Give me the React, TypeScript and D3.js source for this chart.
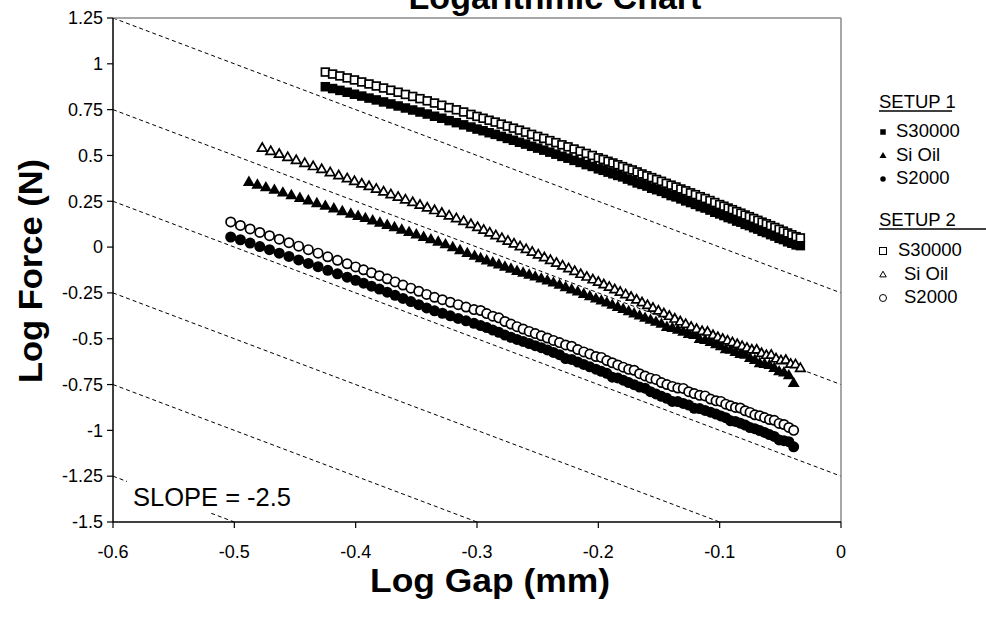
import React from "react";
import * as d3 from "d3";

// Log-log force vs. gap measurements for two test setups.

const xTicks = [-0.6, -0.5, -0.4, -0.3, -0.2, -0.1, 0];
const yTicks = [1.25, 1, 0.75, 0.5, 0.25, 0, -0.25, -0.5, -0.75, -1, -1.25, -1.5];

// Reference lines of slope -2.5, given by their value at log gap = -0.6
const refSlope = -2.5;
const refIntercepts = [1.25, 0.75, 0.25, -0.25, -0.75, -1.25];

// S30000 (both setups share the gap readings)
const s30000Gap = [
  -0.425, -0.419, -0.413, -0.407, -0.401, -0.395, -0.389, -0.383, -0.377, -0.371, -0.365, -0.359, -0.353, -0.347,
  -0.341, -0.335, -0.329, -0.323, -0.317, -0.311, -0.305,
  -0.3, -0.295, -0.29, -0.285, -0.28, -0.275, -0.27, -0.265, -0.26, -0.255, -0.25, -0.245, -0.24, -0.235, -0.23,
  -0.225, -0.22, -0.215, -0.21, -0.205, -0.2,
  -0.196, -0.192, -0.188, -0.184, -0.18, -0.176, -0.172, -0.168, -0.164, -0.16, -0.156, -0.152, -0.148, -0.144,
  -0.14, -0.136, -0.132, -0.128, -0.124, -0.12, -0.116, -0.112, -0.108, -0.104, -0.1,
  -0.0965, -0.093, -0.0895, -0.086, -0.0825, -0.079, -0.0755, -0.072, -0.0685, -0.065, -0.0615, -0.058, -0.0545,
  -0.051, -0.0475, -0.044, -0.0405, -0.037, -0.0335,
];
const setup1S30000 = [
  0.875, 0.865, 0.855, 0.845, 0.834, 0.824, 0.813, 0.803, 0.792, 0.781, 0.77, 0.759, 0.748, 0.737, 0.726, 0.714,
  0.703, 0.69, 0.679, 0.667, 0.655,
  0.644, 0.635, 0.624, 0.615, 0.604, 0.593, 0.583, 0.572, 0.562, 0.55, 0.54, 0.529, 0.518, 0.507, 0.495, 0.485,
  0.473, 0.462, 0.45, 0.44, 0.427,
  0.419, 0.409, 0.4, 0.391, 0.383, 0.371, 0.362, 0.35, 0.342, 0.333, 0.321, 0.313, 0.304, 0.293, 0.281, 0.274,
  0.263, 0.252, 0.243, 0.233, 0.221, 0.213, 0.202, 0.19, 0.181,
  0.172, 0.161, 0.154, 0.142, 0.136, 0.124, 0.117, 0.106, 0.098, 0.086, 0.079, 0.068, 0.06, 0.048, 0.041, 0.029,
  0.021, 0.012, 0.008,
];
const setup2S30000 = [
  0.955, 0.944, 0.934, 0.923, 0.912, 0.901, 0.89, 0.879, 0.868, 0.856, 0.845, 0.833, 0.822, 0.81, 0.798, 0.786,
  0.774, 0.761, 0.749, 0.737, 0.724,
  0.713, 0.703, 0.692, 0.682, 0.671, 0.66, 0.649, 0.638, 0.627, 0.615, 0.604, 0.593, 0.581, 0.57, 0.558, 0.547,
  0.535, 0.523, 0.511, 0.5, 0.487,
  0.478, 0.468, 0.459, 0.449, 0.439, 0.429, 0.421, 0.41, 0.399, 0.389, 0.379, 0.369, 0.359, 0.348, 0.338, 0.328,
  0.317, 0.307, 0.296, 0.286, 0.275, 0.265, 0.254, 0.243, 0.232,
  0.223, 0.213, 0.204, 0.194, 0.185, 0.175, 0.166, 0.156, 0.146, 0.136, 0.127, 0.117, 0.107, 0.097, 0.087, 0.077,
  0.067, 0.057, 0.05,
];

// Si Oil
const setup1SiOilGap = [
  -0.488, -0.481, -0.474, -0.467, -0.46, -0.453, -0.446, -0.439, -0.432, -0.425, -0.418, -0.411, -0.404,
  -0.398, -0.392, -0.386, -0.38, -0.374, -0.368, -0.362, -0.356, -0.35, -0.344, -0.338, -0.332, -0.326, -0.32,
  -0.314, -0.308, -0.302,
  -0.297, -0.292, -0.287, -0.282, -0.277, -0.272, -0.267, -0.262, -0.257, -0.252, -0.247, -0.242, -0.237, -0.232,
  -0.227, -0.222, -0.217, -0.212, -0.207, -0.202,
  -0.1975, -0.193, -0.1885, -0.184, -0.1795, -0.175, -0.1705, -0.166, -0.1615, -0.157, -0.1525, -0.148, -0.1435,
  -0.139, -0.1345, -0.13, -0.1255, -0.121, -0.1165, -0.112, -0.1075, -0.103,
  -0.099, -0.095, -0.091, -0.087, -0.083, -0.079, -0.075, -0.071, -0.067, -0.063, -0.059, -0.055, -0.051, -0.047,
  -0.043, -0.039,
];
const setup1SiOil = [
  0.355, 0.34, 0.326, 0.312, 0.297, 0.283, 0.268, 0.254, 0.239, 0.225, 0.211, 0.196, 0.182,
  0.17, 0.158, 0.145, 0.133, 0.121, 0.108, 0.095, 0.082, 0.069, 0.055, 0.042, 0.029, 0.015, -0.001, -0.017, -0.033,
  -0.048,
  -0.061, -0.073, -0.084, -0.095, -0.107, -0.118, -0.13, -0.14, -0.151, -0.161, -0.172, -0.182, -0.194, -0.206,
  -0.219, -0.231, -0.243, -0.256, -0.268, -0.281,
  -0.292, -0.303, -0.315, -0.327, -0.338, -0.35, -0.362, -0.374, -0.386, -0.397, -0.408, -0.419, -0.436, -0.441,
  -0.451, -0.462, -0.474, -0.48, -0.502, -0.507, -0.518, -0.53,
  -0.541, -0.558, -0.561, -0.572, -0.583, -0.588, -0.605, -0.616, -0.634, -0.638, -0.643, -0.66, -0.678, -0.684,
  -0.7, -0.742,
];
const setup2SiOilGap = [
  -0.477, -0.47, -0.463, -0.456, -0.449, -0.442, -0.435, -0.428, -0.421, -0.414, -0.407,
  -0.401, -0.395, -0.389, -0.383, -0.377, -0.371, -0.365, -0.359, -0.353, -0.347, -0.341, -0.335, -0.329, -0.323,
  -0.317, -0.311, -0.305,
  -0.2995, -0.2945, -0.2895, -0.2845, -0.2795, -0.2745, -0.2695, -0.2645, -0.2595, -0.2545, -0.2495, -0.2445,
  -0.2395, -0.2345, -0.2295, -0.2245, -0.2195, -0.2145, -0.2095, -0.2045,
  -0.2, -0.1955, -0.191, -0.1865, -0.182, -0.1775, -0.173, -0.1685, -0.164, -0.1595, -0.155, -0.1505, -0.146,
  -0.1415, -0.137, -0.1325, -0.128, -0.1235, -0.119, -0.1145, -0.11, -0.1055,
  -0.1015, -0.0975, -0.0935, -0.0895, -0.0855, -0.0815, -0.0775, -0.0735, -0.0695, -0.0655, -0.0615, -0.0575,
  -0.0535, -0.0495, -0.0455, -0.0415, -0.0375, -0.0335,
];
const setup2SiOil = [
  0.541, 0.524, 0.508, 0.491, 0.474, 0.458, 0.441, 0.425, 0.408, 0.391, 0.375,
  0.36, 0.346, 0.332, 0.318, 0.303, 0.288, 0.274, 0.259, 0.245, 0.23, 0.215, 0.201, 0.186, 0.172, 0.157, 0.142,
  0.125,
  0.109, 0.094, 0.079, 0.064, 0.049, 0.034, 0.019, 0.004, -0.011, -0.026, -0.041, -0.056, -0.071, -0.086, -0.101,
  -0.116, -0.131, -0.147, -0.162, -0.177,
  -0.19, -0.204, -0.217, -0.231, -0.244, -0.258, -0.272, -0.287, -0.302, -0.317, -0.332, -0.347, -0.362, -0.376,
  -0.391, -0.406, -0.42, -0.435, -0.447, -0.459, -0.462, -0.481,
  -0.491, -0.501, -0.51, -0.52, -0.53, -0.54, -0.55, -0.56, -0.56, -0.579, -0.589, -0.588, -0.608, -0.618, -0.616,
  -0.637, -0.64, -0.66,
];

// S2000 (both setups share the gap readings)
const s2000Gap = [
  -0.503, -0.495, -0.487, -0.479, -0.471, -0.463, -0.455, -0.447, -0.439, -0.431, -0.423, -0.415, -0.407,
  -0.4, -0.3935, -0.387, -0.3805, -0.374, -0.3675, -0.361, -0.3545, -0.348, -0.3415, -0.335, -0.3285, -0.322,
  -0.3155, -0.309, -0.3025,
  -0.297, -0.292, -0.287, -0.282, -0.277, -0.272, -0.267, -0.262, -0.257, -0.252, -0.247, -0.242, -0.237, -0.232,
  -0.227, -0.222, -0.217, -0.212, -0.207, -0.202,
  -0.1975, -0.193, -0.1885, -0.184, -0.1795, -0.175, -0.1705, -0.166, -0.1615, -0.157, -0.1525, -0.148, -0.1435,
  -0.139, -0.1345, -0.13, -0.1255, -0.121, -0.1165, -0.112, -0.1075, -0.103,
  -0.099, -0.095, -0.091, -0.087, -0.083, -0.079, -0.075, -0.071, -0.067, -0.063, -0.059, -0.055, -0.051, -0.047,
  -0.043, -0.039,
];
const setup1S2000 = [
  0.055, 0.04, 0.022, 0.003, -0.014, -0.033, -0.051, -0.07, -0.089, -0.107, -0.127, -0.146, -0.164,
  -0.181, -0.197, -0.213, -0.229, -0.246, -0.263, -0.28, -0.297, -0.314, -0.332, -0.348, -0.361, -0.375, -0.389,
  -0.402, -0.416,
  -0.428, -0.439, -0.453, -0.465, -0.48, -0.492, -0.504, -0.515, -0.526, -0.538, -0.549, -0.561, -0.575, -0.587,
  -0.608, -0.613, -0.627, -0.64, -0.653, -0.666,
  -0.678, -0.689, -0.71, -0.714, -0.726, -0.739, -0.751, -0.764, -0.77, -0.789, -0.801, -0.814, -0.825, -0.842,
  -0.843, -0.853, -0.862, -0.88, -0.881, -0.891, -0.901, -0.911,
  -0.921, -0.931, -0.948, -0.951, -0.961, -0.971, -0.985, -0.991, -1.001, -1.011, -1.023, -1.033, -1.052, -1.056,
  -1.062, -1.09,
];
const setup2S2000 = [
  0.137, 0.118, 0.099, 0.08, 0.062, 0.043, 0.024, 0.005, -0.014, -0.033, -0.053, -0.072, -0.091,
  -0.108, -0.124, -0.14, -0.156, -0.173, -0.19, -0.207, -0.224, -0.241, -0.258, -0.274, -0.287, -0.301, -0.314,
  -0.327, -0.341,
  -0.346, -0.363, -0.377, -0.386, -0.406, -0.42, -0.434, -0.447, -0.46, -0.472, -0.484, -0.496, -0.509, -0.521,
  -0.534, -0.541, -0.559, -0.572, -0.584, -0.597,
  -0.602, -0.619, -0.631, -0.643, -0.655, -0.667, -0.672, -0.691, -0.703, -0.715, -0.722, -0.739, -0.75, -0.76,
  -0.769, -0.771, -0.789, -0.799, -0.809, -0.812, -0.829, -0.839,
  -0.842, -0.857, -0.866, -0.875, -0.878, -0.893, -0.902, -0.915, -0.92, -0.93, -0.941, -0.945, -0.962, -0.968,
  -0.984, -1.0,
];

type Shape = "square" | "triangle" | "circle";
const series: { gap: number[]; force: number[]; shape: Shape; filled: boolean }[] = [
  { gap: s30000Gap, force: setup1S30000, shape: "square", filled: true },
  { gap: setup1SiOilGap, force: setup1SiOil, shape: "triangle", filled: true },
  { gap: s2000Gap, force: setup1S2000, shape: "circle", filled: true },
  { gap: s30000Gap, force: setup2S30000, shape: "square", filled: false },
  { gap: setup2SiOilGap, force: setup2SiOil, shape: "triangle", filled: false },
  { gap: s2000Gap, force: setup2S2000, shape: "circle", filled: false },
];

const legendGroups = [
  { title: "SETUP 1", items: [["square", "S30000"], ["triangle", "Si Oil"], ["circle", "S2000"]], filled: true },
  { title: "SETUP 2", items: [["square", "S30000"], ["triangle", "Si Oil"], ["circle", "S2000"]], filled: false },
];

const W = 986;
const H = 618;
const FONT = '"Liberation Sans", Arial, Helvetica, sans-serif';
const plot = { left: 113, right: 841, top: 18, bottom: 522 };

const x = d3.scaleLinear().domain([-0.6, 0]).range([plot.left, plot.right]);
const y = d3.scaleLinear().domain([-1.5, 1.25]).range([plot.bottom, plot.top]);

function Marker({
  shape,
  filled,
  cx,
  cy,
  size,
  sw = 1.7,
}: {
  shape: Shape;
  filled: boolean;
  cx: number;
  cy: number;
  size: number;
  sw?: number;
}) {
  const fill = filled ? "#000" : "#fff";
  const stroke = "#000";
  const w = filled ? 0 : sw;
  if (shape === "square") {
    const s = filled ? size : size - sw;
    return <rect x={cx - s / 2} y={cy - s / 2} width={s} height={s} fill={fill} stroke={stroke} strokeWidth={w} />;
  }
  if (shape === "circle") {
    const r = filled ? size / 2 : (size - sw) / 2;
    return <circle cx={cx} cy={cy} r={r} fill={fill} stroke={stroke} strokeWidth={w} />;
  }
  const side = filled ? size : size - 1.5 * sw;
  const path = d3.symbol(d3.symbolTriangle, (Math.sqrt(3) / 4) * side * side)();
  return (
    <path
      d={path || ""}
      transform={`translate(${cx},${cy + 0.5})`}
      fill={fill}
      stroke={stroke}
      strokeWidth={w}
      strokeLinejoin="miter"
    />
  );
}

export default function App() {
  const markerSize: Record<Shape, number> = { square: 9.5, triangle: 12, circle: 11 };
  return (
    <svg
      width={W}
      height={H}
      viewBox={`0 0 ${W} ${H}`}
      style={{ position: "absolute", left: 0, top: 0, background: "#fff", fontFamily: FONT }}
    >
      <defs>
        <clipPath id="plot-clip">
          <rect x={plot.left} y={plot.top} width={plot.right - plot.left} height={plot.bottom - plot.top} />
        </clipPath>
      </defs>
      <rect x={0} y={0} width={W} height={H} fill="#fff" />

      <text x={555} y={9} fontSize={34} fontWeight="bold" textAnchor="middle" fill="#000">
        Logarithmic Chart
      </text>

      {/* reference slope lines */}
      <g clipPath="url(#plot-clip)">
        {refIntercepts.map((c) => (
          <line
            key={c}
            x1={x(-0.6)}
            y1={y(c)}
            x2={x(0)}
            y2={y(c + refSlope * 0.6)}
            stroke="#000"
            strokeWidth={1}
            strokeDasharray="4,3"
          />
        ))}
      </g>

      {/* plot frame */}
      <line x1={plot.left} y1={plot.top} x2={plot.right} y2={plot.top} stroke="#8a8a8a" strokeWidth={1.5} />
      <line x1={plot.right} y1={plot.top} x2={plot.right} y2={plot.bottom} stroke="#8a8a8a" strokeWidth={1.5} />
      <line x1={plot.left} y1={plot.top} x2={plot.left} y2={plot.bottom} stroke="#000" strokeWidth={1.5} />
      <line x1={plot.left} y1={plot.bottom} x2={plot.right} y2={plot.bottom} stroke="#000" strokeWidth={1.5} />

      {yTicks.map((t) => (
        <g key={"y" + t}>
          <line x1={plot.left - 6} x2={plot.left} y1={y(t)} y2={y(t)} stroke="#000" strokeWidth={1.2} />
          <text x={plot.left - 10} y={y(t)} dy="0.35em" fontSize={18} textAnchor="end" fill="#000">
            {String(t)}
          </text>
        </g>
      ))}
      {xTicks.map((t) => (
        <g key={"x" + t}>
          <line x1={x(t)} x2={x(t)} y1={plot.bottom} y2={plot.bottom + 6} stroke="#000" strokeWidth={1.2} />
          <text x={x(t)} y={558} fontSize={18} textAnchor="middle" fill="#000">
            {String(t)}
          </text>
        </g>
      ))}

      {/* data */}
      <g clipPath="url(#plot-clip)">
        {series.map((s, si) => (
          <g key={si}>
            {s.gap.map((g, i) => (
              <Marker key={i} shape={s.shape} filled={s.filled} cx={x(g)} cy={y(s.force[i])} size={markerSize[s.shape]} />
            ))}
          </g>
        ))}
      </g>

      {/* slope annotation box */}
      <rect x={127} y={481} width={170} height={32} fill="#fff" />
      <text x={133} y={506} fontSize={25.5} fill="#000">
        SLOPE = -2.5
      </text>

      <text
        x={490}
        y={592}
        fontSize={33}
        fontWeight="bold"
        textAnchor="middle"
        textLength={240}
        lengthAdjust="spacingAndGlyphs"
        fill="#000"
      >
        Log Gap (mm)
      </text>
      <text
        transform="translate(42,271) rotate(-90)"
        fontSize={33}
        fontWeight="bold"
        textAnchor="middle"
        textLength={224}
        lengthAdjust="spacingAndGlyphs"
        fill="#000"
      >
        Log Force (N)
      </text>

      {/* legend */}
      {legendGroups.map((grp, gi) => {
        const top = gi === 0 ? 108 : 226;
        return (
          <g key={grp.title}>
            <text x={879} y={top} fontSize={18.5} fill="#000">
              {grp.title}
            </text>
            <line x1={879} x2={gi === 0 ? 952 : 986} y1={top + 3} y2={top + 3} stroke="#000" strokeWidth={1.3} />
            {grp.items.map(([shape, label], i) => {
              const cy = top + 23 + i * 23.5 + (gi === 1 ? 1 : 0);
              const tx = gi === 0 ? 896 : i === 0 ? 898 : 904;
              const sz = gi === 0 ? (shape === "triangle" ? 7 : 5.5) : shape === "triangle" ? 8 : 8;
              return (
                <g key={label}>
                  <Marker shape={shape as Shape} filled={grp.filled} cx={883} cy={cy + 1} size={sz} sw={1} />
                  <text x={tx} y={cy} dy="0.35em" fontSize={18.5} fill="#000">
                    {label}
                  </text>
                </g>
              );
            })}
          </g>
        );
      })}
    </svg>
  );
}
